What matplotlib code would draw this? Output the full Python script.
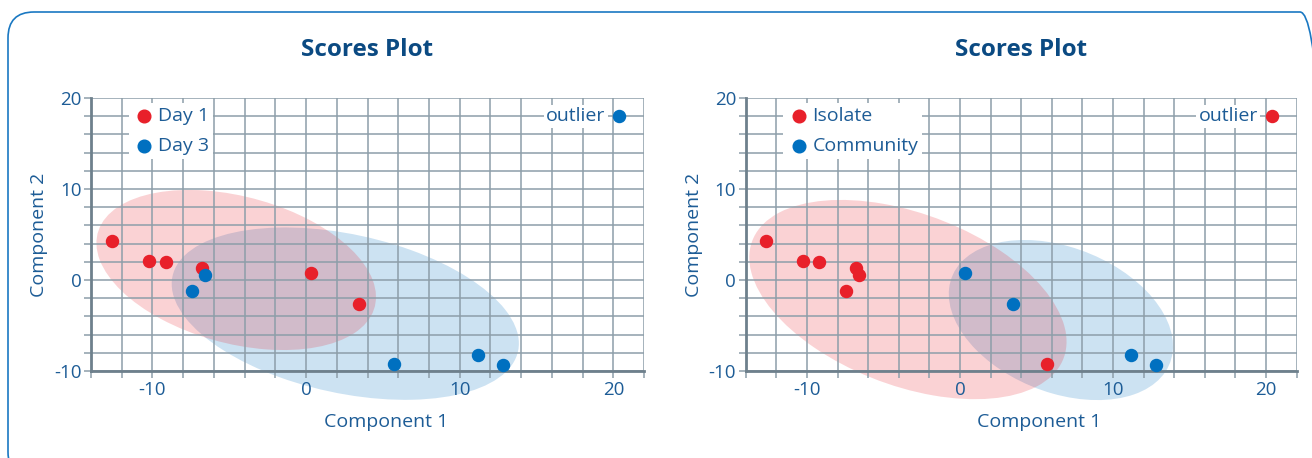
import numpy as np
import matplotlib
matplotlib.use("Agg")
import matplotlib.pyplot as plt
from matplotlib.patches import Ellipse, FancyBboxPatch
from matplotlib.transforms import IdentityTransform
from matplotlib.ticker import MultipleLocator

# ---------------- data ----------------
# Left panel
day1_x = [-12.65, -10.2, -9.1, -6.75, 0.35, 3.45]
day1_y = [4.3, 2.05, 1.95, 1.3, 0.75, -2.6]
day3_x = [-6.6, -7.4, 5.7, 11.2, 12.8]
day3_y = [0.6, -1.2, -9.25, -8.2, -9.3]
left_outlier = (20.4, 18.0)

# Right panel
isolate_x = [-12.7, -10.25, -9.2, -6.8, -6.6, -7.45, 5.7]
isolate_y = [4.3, 2.05, 1.95, 1.3, 0.6, -1.2, -9.2]
community_x = [0.35, 3.45, 11.2, 12.8]
community_y = [0.75, -2.6, -8.2, -9.3]
right_outlier = (20.4, 18.0)

# Confidence ellipses: centre and spread matrix (sxx, syy, sxy) in data units
ell_day1 = ((-4.55, 1.1), 82.8, 77.4, -27.0)
ell_day3 = ((2.55, -3.7), 127.7, 89.7, -37.0)
ell_isolate = ((-3.4, -2.15), 107.5, 119.9, -48.0)
ell_community = ((6.6, -4.4), 53.7, 77.4, -21.0)

x_ticks = [-10, 0, 10, 20]
y_ticks = [-10, 0, 10, 20]
x_limits = (-14, 22)
y_limits = (-10, 20)

RED = "#e8202a"
BLUE = "#0070c0"
TXT = "#1d5c96"
TITLE = "#0b4a82"
GRID = "#8d9ea9"
SPINE = "#6e808c"

plt.rcParams['font.family'] = ['Open Sans', 'DejaVu Sans']

fig = plt.figure(figsize=(13.12, 4.58), dpi=100)

# rounded border
border = FancyBboxPatch((8, -20), 1318, 466, boxstyle="round,pad=0,rounding_size=26",
                        transform=IdentityTransform(), fill=False,
                        edgecolor="#1a78c2", linewidth=1.2, clip_on=False)
fig.patches.append(border)


def add_ellipse(ax, spec, color, z):
    (cx, cy), sxx, syy, sxy = spec
    cov = np.array([[sxx, sxy], [sxy, syy]])
    vals, vecs = np.linalg.eigh(cov)
    order = vals.argsort()[::-1]
    vals, vecs = vals[order], vecs[:, order]
    angle = np.degrees(np.arctan2(vecs[1, 0], vecs[0, 0]))
    e = Ellipse((cx, cy), 2 * np.sqrt(vals[0]), 2 * np.sqrt(vals[1]), angle=angle,
                facecolor=color, alpha=0.2, edgecolor="none", zorder=z, clip_on=False)
    ax.add_patch(e)


def style_axes(ax):
    ax.set_xlim(*x_limits)
    ax.set_ylim(*y_limits)
    ax.xaxis.set_minor_locator(MultipleLocator(2))
    ax.yaxis.set_minor_locator(MultipleLocator(2))
    ax.set_xticks(x_ticks)
    ax.set_yticks(y_ticks)
    ax.set_xticklabels([str(t) for t in x_ticks])
    ax.set_yticklabels([str(t) for t in y_ticks])
    ax.set_axisbelow(True)
    ax.grid(True, which="both", color=GRID, linewidth=1.1, zorder=0.5)
    for s in ["top", "right"]:
        ax.spines[s].set_visible(False)
    for s in ["left", "bottom"]:
        ax.spines[s].set_color(SPINE)
        ax.spines[s].set_linewidth(2.0)
        ax.spines[s].set_zorder(2.5)
    ax.tick_params(which="both", direction="out", length=5, width=1.1, color=GRID,
                   labelsize=13.5, labelcolor=TXT, pad=2)
    ax.set_xlabel("Component 1", fontsize=14, color=TXT)
    ax.set_ylabel("Component 2", fontsize=14, color=TXT)
    ax.xaxis.set_label_coords(0.533, -0.155)
    ax.yaxis.set_label_coords(-0.077, 0.5)
    ax.set_title("Scores Plot", fontsize=17.5, fontweight="bold", color=TITLE, pad=30)


def outlier_label(ax, pt, color):
    ax.scatter([pt[0]], [pt[1]], s=75, color=color, zorder=4, clip_on=False)
    ax.annotate("outlier", xy=pt, xytext=(-10, 0), textcoords="offset points",
                ha="right", va="center", fontsize=14, color=TXT, zorder=3,
                bbox=dict(boxstyle="square,pad=0.12", facecolor="white", edgecolor="none"))


def legend(ax):
    leg = ax.legend(loc="upper left", bbox_to_anchor=(0.068, 0.98), fontsize=14,
                    frameon=True, facecolor="white", edgecolor="none", framealpha=1,
                    borderpad=0.2, handletextpad=0.1, labelspacing=0.58,
                    borderaxespad=0, handlelength=1.2, fancybox=False, markerscale=1.05)
    for t in leg.get_texts():
        t.set_color(TXT)
    leg.set_zorder(2)


ax1 = fig.add_axes([0.0694, 0.19, 0.4215, 0.596])
ax2 = fig.add_axes([0.5684, 0.19, 0.4198, 0.596])

# Left panel
add_ellipse(ax1, ell_day3, BLUE, 0.3)
add_ellipse(ax1, ell_day1, RED, 0.31)
ax1.scatter(day1_x, day1_y, s=75, color=RED, zorder=3, label="Day 1", clip_on=False)
ax1.scatter(day3_x, day3_y, s=75, color=BLUE, zorder=3, label="Day 3", clip_on=False)
style_axes(ax1)
legend(ax1)
outlier_label(ax1, left_outlier, BLUE)

# Right panel
add_ellipse(ax2, ell_community, BLUE, 0.3)
add_ellipse(ax2, ell_isolate, RED, 0.31)
ax2.scatter(isolate_x, isolate_y, s=75, color=RED, zorder=3, label="Isolate", clip_on=False)
ax2.scatter(community_x, community_y, s=75, color=BLUE, zorder=3, label="Community", clip_on=False)
style_axes(ax2)
legend(ax2)
outlier_label(ax2, right_outlier, RED)

fig.savefig("out.png", dpi=100)
